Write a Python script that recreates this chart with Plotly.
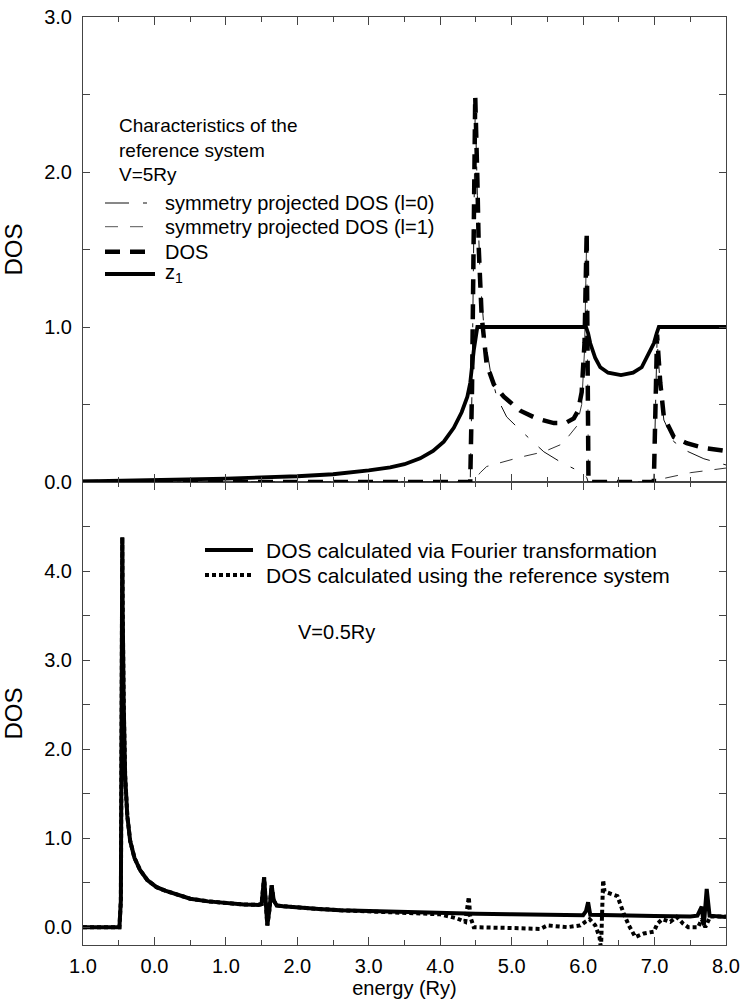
import plotly.graph_objects as go

# ---------------- data: top panel (V = 5 Ry) ----------------
E_z1 = [-1.0, 0.0, 1.0, 2.0, 2.5, 3.0, 3.3, 3.5, 3.72, 3.9, 4.05, 4.19, 4.3, 4.38, 4.42, 4.47, 4.5, 4.52,
        6.04, 6.07, 6.10, 6.17, 6.24, 6.35, 6.53, 6.70, 6.82, 6.89, 6.99, 7.03, 7.06, 8.0]
Z1 = [0.004, 0.01, 0.022, 0.037, 0.05, 0.075, 0.095, 0.115, 0.153, 0.2, 0.26, 0.35, 0.45, 0.55, 0.64, 0.85, 0.96, 1.0,
      1.0, 0.96, 0.895, 0.8, 0.74, 0.705, 0.69, 0.705, 0.74, 0.8, 0.895, 0.96, 1.0, 1.0]

E_dos = [-1.0, 4.42, 4.445, 4.47, 4.49, 4.52, 4.54, 4.58, 4.65, 4.75, 4.89, 5.12, 5.35, 5.59, 5.75, 5.87, 5.93,
         5.98, 6.02, 6.05, 6.065, 6.075, 6.99, 7.01, 7.035, 7.08, 7.13, 7.27, 7.45, 7.69, 8.0]
DOS = [0, 0, 0.6, 1.9, 2.49, 1.95, 1.5, 1.07, 0.76, 0.63, 0.55, 0.46, 0.41, 0.38, 0.38, 0.41, 0.46,
       0.58, 0.9, 1.615, 0.8, 0.0, 0.0, 0.45, 0.95, 0.64, 0.42, 0.29, 0.25, 0.22, 0.2]

E_l0 = [-1.0, 4.42, 4.445, 4.47, 4.49, 4.52, 4.56, 4.62, 4.70, 4.79, 4.93, 5.12, 5.35, 5.45, 5.68, 5.91, 6.05,
        6.07, 6.99, 7.01, 7.035, 7.08, 7.13, 7.27, 7.45, 7.69, 8.0]
L0 = [0, 0, 0.6, 1.85, 2.42, 1.85, 1.3, 0.95, 0.72, 0.55, 0.42, 0.335, 0.24, 0.195, 0.13, 0.077, 0.03,
      0.0, 0.0, 0.45, 0.92, 0.62, 0.40, 0.26, 0.2, 0.15, 0.11]

E_l1 = [-1.0, 4.47, 4.49, 4.56, 4.65, 4.89, 5.12, 5.45, 5.68, 5.77, 5.91, 5.98, 6.02, 6.05, 6.065, 6.075,
        7.0, 7.1, 7.3, 7.5, 7.75, 8.0]
L1 = [0, 0, 0.02, 0.06, 0.1, 0.13, 0.16, 0.195, 0.24, 0.28, 0.36, 0.5, 0.85, 1.58, 0.8, 0.0,
      0.0, 0.02, 0.04, 0.06, 0.075, 0.09]

# ---------------- data: bottom panel (V = 0.5 Ry) ----------------
E_ft = [-1.0, -0.49, -0.47, -0.455, -0.45, -0.445, -0.43, -0.41, -0.38, -0.34, -0.28, -0.2, -0.1, 0.03, 0.15,
        0.26, 0.5, 0.75, 1.0, 1.25, 1.45, 1.50, 1.535, 1.56, 1.58, 1.61, 1.64, 1.67, 1.71, 1.8, 2.0, 2.3, 2.6,
        3.0, 3.5, 4.0, 4.5, 5.0, 5.5, 6.0, 6.04, 6.07, 6.10, 6.5, 7.0, 7.5, 7.6, 7.66, 7.69, 7.73, 7.77, 8.0]
FT = [0, 0, 0.3, 2.8, 4.38, 3.6, 2.5, 1.7, 1.25, 0.97, 0.78, 0.64, 0.53, 0.45, 0.41,
      0.38, 0.32, 0.29, 0.27, 0.255, 0.25, 0.26, 0.56, 0.25, 0.02, 0.2, 0.47, 0.3, 0.245, 0.235, 0.22, 0.205, 0.19,
      0.18, 0.17, 0.16, 0.15, 0.145, 0.14, 0.135, 0.18, 0.28, 0.14, 0.13, 0.125, 0.12, 0.13, 0.23, 0.02, 0.43, 0.13, 0.115]

E_ref = [-1.0, -0.49, -0.47, -0.455, -0.45, -0.445, -0.43, -0.41, -0.38, -0.34, -0.28, -0.2, -0.1, 0.03, 0.15,
         0.26, 0.5, 0.75, 1.0, 1.25, 1.45, 1.50, 1.535, 1.56, 1.58, 1.61, 1.64, 1.67, 1.71, 1.8, 2.0, 2.3, 2.6,
         3.0, 3.5, 3.8, 4.0, 4.23, 4.35, 4.40, 4.42, 4.47, 4.56, 5.03, 5.4, 5.5, 5.78, 5.96, 6.03, 6.09, 6.17,
         6.23, 6.25, 6.26, 6.28, 6.30, 6.42, 6.48, 6.57, 6.64, 6.73, 6.85, 6.99, 7.04, 7.11, 7.22, 7.31, 7.40,
         7.47, 7.61, 7.66, 7.71, 7.78, 8.0]
REF = [0, 0, 0.3, 2.8, 4.38, 3.6, 2.5, 1.7, 1.25, 0.97, 0.78, 0.64, 0.53, 0.45, 0.41,
       0.38, 0.32, 0.29, 0.27, 0.255, 0.25, 0.26, 0.56, 0.25, 0.02, 0.2, 0.47, 0.3, 0.245, 0.235, 0.22, 0.205, 0.19,
       0.18, 0.165, 0.155, 0.145, 0.1, 0.06, 0.34, 0.12, 0.0, 0.0, -0.01, -0.02, 0.02, 0.0, 0.02, 0.06, 0.09, 0.02,
       -0.11, -0.25, 0.21, 0.53, 0.4, 0.36, 0.35, 0.15, 0.02, -0.11, -0.07, -0.05, 0.04, 0.09, 0.06, 0.115, 0.04,
       0.0, 0.0, 0.09, 0.0, 0.12, 0.12]

X_TICKS = [-1, 0, 1, 2, 3, 4, 5, 6, 7, 8]
X_TICK_TEXT = ["1.0", "0.0", "1.0", "2.0", "3.0", "4.0", "5.0", "6.0", "7.0", "8.0"]
Y_TOP_TICKS = [0, 1, 2, 3]
Y_BOT_TICKS = [0, 1, 2, 3, 4]

# ---------------- styles ----------------
FONT = "Liberation Sans, Arial, Helvetica, sans-serif"
FS = 20
AX = "#444444"
W, H = 741, 1002
L, R, T, B = 83, 15, 17, 57
PW, PH = W - L - R, H - T - B
SPLIT = 482


def px(xp, yp):
    return (xp - L) / PW, (H - B - yp) / PH


DASH_L0 = "24px,14px,4px,14px"
DASH_L1 = "13px,12px"
DASH_DOS = "15px,10px"
DASH_REF = "4px,3px"

fig = go.Figure()
# top panel
fig.add_trace(go.Scatter(x=E_l0, y=L0, xaxis="x2", yaxis="y2", mode="lines",
                         line=dict(color="#111", width=1, dash=DASH_L0),
                         name="symmetry projected DOS (l=0)", showlegend=False))
fig.add_trace(go.Scatter(x=E_l1, y=L1, xaxis="x2", yaxis="y2", mode="lines",
                         line=dict(color="#333", width=1, dash=DASH_L1),
                         name="symmetry projected DOS (l=1)", showlegend=False))
fig.add_trace(go.Scatter(x=E_z1, y=Z1, xaxis="x2", yaxis="y2", mode="lines",
                         line=dict(color="black", width=3.8),
                         name="z1", showlegend=False))
fig.add_trace(go.Scatter(x=E_dos, y=DOS, xaxis="x2", yaxis="y2", mode="lines",
                         line=dict(color="black", width=4.5, dash=DASH_DOS),
                         name="DOS", showlegend=False))
# bottom panel
fig.add_trace(go.Scatter(x=E_ft, y=FT, xaxis="x", yaxis="y", mode="lines",
                         line=dict(color="black", width=4),
                         name="DOS calculated via Fourier transformation", showlegend=False))
fig.add_trace(go.Scatter(x=E_ref, y=REF, xaxis="x", yaxis="y", mode="lines",
                         line=dict(color="black", width=4, dash=DASH_REF),
                         name="DOS calculated using the reference system", showlegend=False))

split_p = (H - B - SPLIT) / PH

common_x = dict(range=[-1, 8], tickvals=X_TICKS, ticktext=X_TICK_TEXT, ticks="inside", ticklen=8,
                tickwidth=1, tickcolor=AX, showline=True, linecolor=AX, linewidth=1, mirror="ticks",
                showgrid=False, zeroline=False,
                minor=dict(ticks="inside", ticklen=5, dtick=0.5, tick0=0, tickcolor=AX, showgrid=False))
common_y = dict(ticks="inside", ticklen=7, tickwidth=1, tickcolor=AX, showline=True, linecolor=AX,
                linewidth=1, mirror="ticks", showgrid=False, zeroline=False, tickformat=".1f",
                minor=dict(ticks="inside", ticklen=7, dtick=0.5, tick0=0, tickcolor=AX, showgrid=False),
                ticklabelstandoff=6)

fig.update_layout(
    width=W, height=H,
    margin=dict(l=L, r=R, t=T, b=B, autoexpand=False),
    paper_bgcolor="white", plot_bgcolor="white",
    font=dict(family=FONT, size=FS, color="black"),
    showlegend=False,
    xaxis=dict(common_x, domain=[0, 1], anchor="y",
               title=dict(text="energy (Ry)", standoff=2, font=dict(size=FS)),
               ticklabelstandoff=3),
    xaxis2=dict(common_x, domain=[0, 1], anchor="y2", matches="x", showticklabels=False),
    yaxis=dict(common_y, domain=[0, split_p], anchor="x", range=[-0.2, 5.0], tickvals=Y_BOT_TICKS,
               title=dict(text="DOS", standoff=14)),
    yaxis2=dict(common_y, domain=[split_p, 1], anchor="x2", range=[0, 3], tickvals=Y_TOP_TICKS,
                title=dict(text="DOS", standoff=14)),
)

# ---------------- legends (drawn as keys + text) ----------------
shapes = []
annotations = []


def key(x0, x1, y, width, dash=None, color="black"):
    a = px(x0, y)
    b = px(x1, y)
    shapes.append(dict(type="line", xref="paper", yref="paper", x0=a[0], y0=a[1], x1=b[0], y1=b[1],
                       line=dict(color=color, width=width, dash=dash or "solid")))


def label(x, y, text, size=FS):
    p = px(x, y)
    annotations.append(dict(xref="paper", yref="paper", x=p[0], y=p[1], text=text, showarrow=False,
                            xanchor="left", yanchor="middle", font=dict(size=size, family=FONT, color="black"),
                            align="left"))


label(117, 150, "Characteristics of the<br>reference system<br>V=5Ry", size=19)

key(105, 155, 203, 1, DASH_L0, "#111")
key(105, 155, 226.7, 1, DASH_L1, "#555")
key(105, 155, 251.7, 4.5, DASH_DOS)
key(105, 155, 274, 3.8)
label(163, 203, "symmetry projected DOS (l=0)")
label(163, 226.7, "symmetry projected DOS (l=1)")
label(163, 251.7, "DOS")
label(163, 273, "z<sub>1</sub>")

key(205, 253, 550, 4)
key(205, 253, 575, 4, DASH_REF)
label(264, 550, "DOS calculated via Fourier transformation", size=21)
label(264, 575, "DOS calculated using the reference system", size=21)
label(296, 632, "V=0.5Ry")

fig.update_layout(shapes=shapes, annotations=annotations)

fig.write_html("out.html")
